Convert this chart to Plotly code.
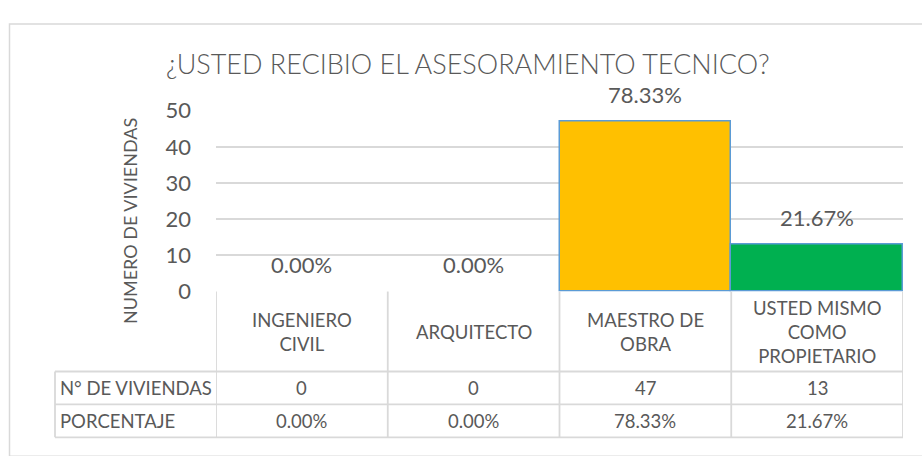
import plotly.graph_objects as go

# ---------------- data ----------------
categories = ["INGENIERO CIVIL", "ARQUITECTO", "MAESTRO DE OBRA", "USTED MISMO COMO PROPIETARIO"]
header_labels = ["INGENIERO<br>CIVIL", "ARQUITECTO", "MAESTRO DE<br>OBRA", "USTED MISMO<br>COMO<br>PROPIETARIO"]
viviendas = [0, 0, 47, 13]
porcentaje = [0.00, 0.00, 78.33, 21.67]
bar_colors = ["#5B9BD5", "#5B9BD5", "#FFC000", "#00B050"]
row_labels = ["N° DE VIVIENDAS", "PORCENTAJE"]
y_ticks = [0, 10, 20, 30, 40, 50]
title_text = "¿USTED RECIBIO EL ASESORAMIENTO TECNICO?"
y_title = "NUMERO DE VIVIENDAS"

# ---------------- layout helpers ----------------
W, H = 922, 456
def px(x):
    return x / W
def py(y):
    return 1 - y / H

FONT = "Lato, 'Open Sans', sans-serif"
TXT = "#595959"
GRID = "#D9D9D9"

PLOT_L, PLOT_R = 216, 903
PLOT_T, PLOT_B = 102.7, 295
TABLE_LEFT = 55
ROW_LINES = [380, 415, 450]
HEADER_Y = 337.5
ROW_Y = [397.5, 432.5]

fig = go.Figure()
fig.add_trace(go.Bar(
    x=categories, y=viviendas,
    marker=dict(color=bar_colors,
                line=dict(color="#5B9BD5", width=[0 if v == 0 else 1.5 for v in viviendas])),
    width=1.0, hoverinfo="skip", showlegend=False,
))

annotations = []
# title
annotations.append(dict(text=title_text, x=px(468), y=py(53), xref="paper", yref="paper",
                        xanchor="center", yanchor="middle", showarrow=False,
                        font=dict(family=FONT, size=27, color=TXT, weight=300)))
# y axis title
annotations.append(dict(text=y_title, x=px(130), y=py(220), xref="paper", yref="paper",
                        xanchor="center", yanchor="middle", showarrow=False, textangle=-90,
                        font=dict(family=FONT, size=18, color=TXT)))
# data labels
for c, v, p in zip(categories, viviendas, porcentaje):
    annotations.append(dict(text=f"{p:.2f}%", x=c, y=v, xref="x", yref="y",
                            xanchor="center", yanchor="middle", yshift=27, showarrow=False,
                            font=dict(family=FONT, size=22, color=TXT)))
# table header
for c, lab in zip(categories, header_labels):
    annotations.append(dict(text=lab, x=c, y=py(HEADER_Y), xref="x", yref="paper",
                            xanchor="center", yanchor="middle", showarrow=False,
                            font=dict(family=FONT, size=18.5, color=TXT)))
# table rows
rows = [[str(v) for v in viviendas], [f"{p:.2f}%" for p in porcentaje]]
for lab, vals, yy in zip(row_labels, rows, ROW_Y):
    annotations.append(dict(text=lab, x=px(TABLE_LEFT + 3), y=py(yy), xref="paper", yref="paper",
                            xanchor="left", yanchor="middle", showarrow=False,
                            font=dict(family=FONT, size=18.5, color=TXT)))
    for c, t in zip(categories, vals):
        annotations.append(dict(text=t, x=c, y=py(yy), xref="x", yref="paper",
                                xanchor="center", yanchor="middle", showarrow=False,
                                font=dict(family=FONT, size=18.5, color=TXT)))

shapes = []
# outer chart border (cropped at right/bottom)
shapes.append(dict(type="rect", xref="paper", yref="paper", x0=px(9.5), x1=px(930),
                   y0=py(470), y1=py(10.5), line=dict(color=GRID, width=1.5)))
LW = 1.8
# table horizontal lines
for yl in ROW_LINES:
    shapes.append(dict(type="line", xref="paper", yref="paper", x0=px(TABLE_LEFT), x1=px(PLOT_R),
                       y0=py(yl), y1=py(yl), line=dict(color=GRID, width=LW)))
# table vertical lines
shapes.append(dict(type="line", xref="paper", yref="paper", x0=px(TABLE_LEFT), x1=px(TABLE_LEFT),
                   y0=py(ROW_LINES[0]), y1=py(ROW_LINES[-1]), line=dict(color=GRID, width=LW)))
for i in range(len(categories) + 1):
    shapes.append(dict(type="line", xref="x", yref="paper", x0=i - 0.5, x1=i - 0.5,
                       y0=py(PLOT_B), y1=py(ROW_LINES[-1]), line=dict(color=GRID, width=LW)))

fig.update_layout(
    width=W, height=H,
    margin=dict(l=0, r=0, t=0, b=0),
    paper_bgcolor="white", plot_bgcolor="white",
    bargap=0,
    showlegend=False,
    xaxis=dict(domain=[px(PLOT_L), px(PLOT_R)], type="category", range=[-0.5, 3.5],
               showticklabels=False, showgrid=False, zeroline=False, showline=False,
               ticks="", fixedrange=True),
    yaxis=dict(domain=[py(PLOT_B), py(PLOT_T)], range=[0, 50], tickvals=y_ticks,
               showgrid=True, gridcolor=GRID, gridwidth=2, zeroline=False, showline=False,
               ticks="", ticklabelstandoff=24,
               tickfont=dict(family=FONT, size=22, color=TXT), fixedrange=True),
    annotations=annotations,
    shapes=shapes,
)

fig.write_html("out.html", config={"displayModeBar": False},
               post_script="document.body.style.margin='0';document.body.style.overflow='hidden';")
